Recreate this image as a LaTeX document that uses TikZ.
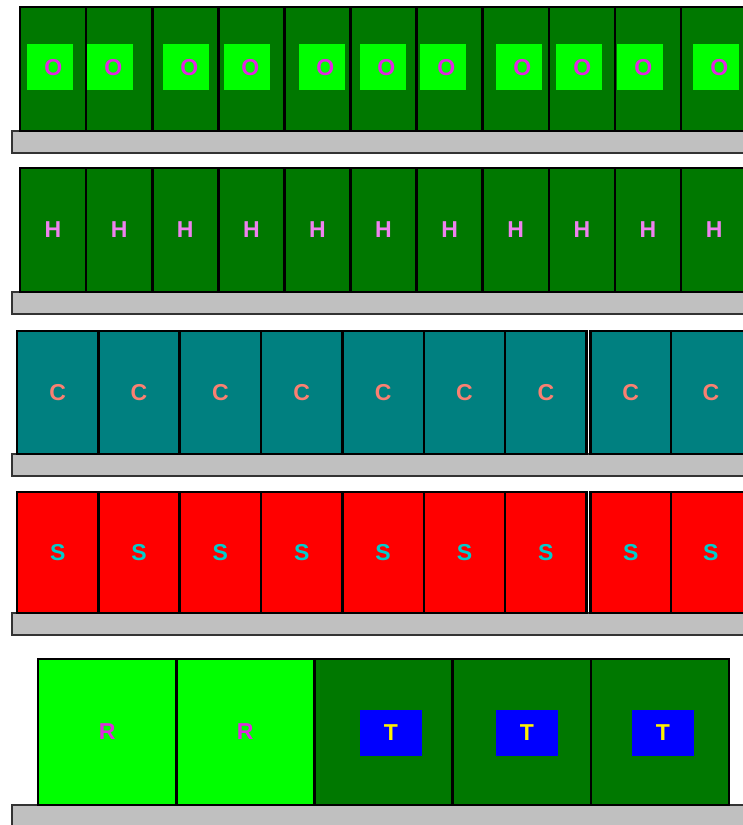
\documentclass[tikz,border=0pt]{standalone}
\usepackage{fontspec}
\setmainfont{Liberation Sans}
\usepackage{tikz}

\definecolor{cratedark}{RGB}{0,120,0}
\definecolor{cratelime}{RGB}{0,255,0}
\definecolor{crateteal}{RGB}{0,128,128}
\definecolor{cratered}{RGB}{255,0,0}
\definecolor{shelfgray}{RGB}{192,192,192}
\definecolor{tagmagenta}{RGB}{224,40,224}
\definecolor{tagviolet}{RGB}{238,130,238}
\definecolor{tagsalmon}{RGB}{250,128,114}
\definecolor{tagcyan}{RGB}{0,204,204}

\tikzset{
  crate/.style={draw=black, line width=2.6pt, anchor=north west, inner sep=0pt, outer sep=0pt},
  shelf/.style={fill=shelfgray, draw=black!80, line width=1.5pt},
  tag/.style={font=\fontsize{23}{23}\selectfont\bfseries, inner sep=0pt},
}

\begin{document}
\begin{tikzpicture}[x=1pt,y=-1pt]

\useasboundingbox (0,0) rectangle (743,825);
\clip (0,0) rectangle (743,825);

% Shelves
\foreach \sy in {131,292,454,613,805}
{
\draw[shelf] (12,\sy) rectangle (750,\sy+22);
}

% Row 1: O crates
\foreach \i/\sx in {1/27,2/87,3/163,4/224,5/299,6/360,7/420,8/496,9/556,10/617,11/693}
{
\node[crate, fill=cratedark, minimum width=66.1pt, minimum height=124pt] (o\i) at ({20+(\i-1)*66.1},7) {};
\node[fill=cratelime, minimum size=46pt, anchor=north west, inner sep=0pt] (osq\i) at (\sx,44) {};
\node[tag, text=tagmagenta, xshift=3pt] (olbl\i) at (osq\i) {O};
}

% Row 2: H crates
\foreach \i in {1,...,11}
{
\node[crate, fill=cratedark, minimum width=66.1pt, minimum height=124pt] (h\i) at ({20+(\i-1)*66.1},168) {};
\node[tag, text=tagviolet] (hlbl\i) at (h\i) {H};
}

% Row 3: C crates
\foreach \i/\cx/\cw in {1/17/81.36,2/98.36/81.36,3/179.72/81.36,4/261.08/81.36,5/342.44/81.36,6/423.8/81.36,7/505.16/81.36,8/590.6/80.2,9/670.8/80.2}
{
\node[crate, fill=crateteal, minimum width=\cw pt, minimum height=123pt] (c\i) at (\cx,331) {};
\node[tag, text=tagsalmon] (clbl\i) at (c\i) {C};
}

% Row 4: S crates
\foreach \i/\cx/\cw in {1/17/81.36,2/98.36/81.36,3/179.72/81.36,4/261.08/81.36,5/342.44/81.36,6/423.8/81.36,7/505.16/81.36,8/590.6/80.2,9/670.8/80.2}
{
\node[crate, fill=cratered, minimum width=\cw pt, minimum height=121pt] (s\i) at (\cx,492) {};
\node[tag, text=tagcyan] (slbl\i) at (s\i) {S};
}

% Row 5: R and T crates
\foreach \i in {1,2}
{
\node[crate, fill=cratelime, minimum width=138.2pt, minimum height=146pt] (r\i) at ({38+(\i-1)*138.2},659) {};
\node[tag, text=tagmagenta] (rlbl\i) at (r\i) {R};
}
\foreach \i/\bx in {1/391,2/527,3/663}
{
\node[crate, fill=cratedark, minimum width=138.2pt, minimum height=146pt] (t\i) at ({314.4+(\i-1)*138.2},659) {};
\node[fill=blue, minimum width=62pt, minimum height=46pt, inner sep=0pt] (tsq\i) at (\bx,733) {};
\node[tag, text=yellow] (tlbl\i) at (tsq\i) {T};
}

\end{tikzpicture}
\end{document}
